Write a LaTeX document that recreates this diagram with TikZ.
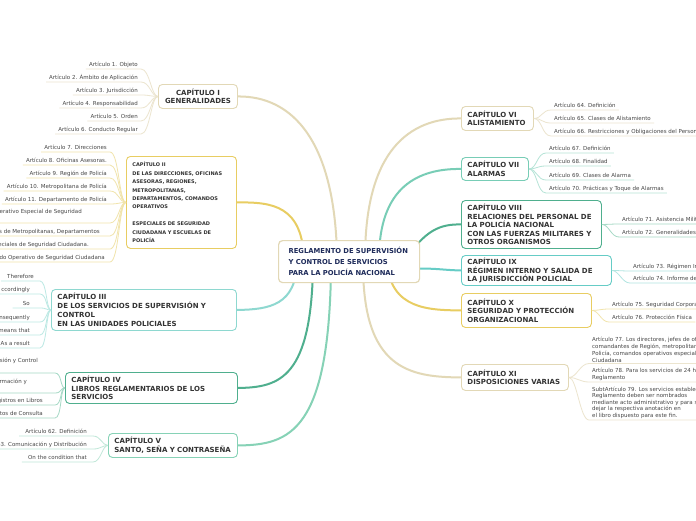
\documentclass[tikz,border=0pt]{standalone}
\usepackage{fontspec}
\setmainfont{DejaVu Sans}
\pgfdeclarelayer{bg}
\pgfsetlayers{bg,main}
\definecolor{beigeb}{HTML}{E2D8B6}
\definecolor{beigel}{HTML}{ECE5CF}
\definecolor{yel}{HTML}{E8CD62}
\definecolor{yell}{HTML}{F1E4AC}
\definecolor{teal3}{HTML}{8ED8D0}
\definecolor{teal3l}{HTML}{BCE9E4}
\definecolor{grn}{HTML}{4FAF8E}
\definecolor{grnl}{HTML}{A6D9C6}
\definecolor{tg5}{HTML}{86D2B6}
\definecolor{tg5l}{HTML}{C0E7D8}
\definecolor{tg7}{HTML}{78CDB6}
\definecolor{tg7l}{HTML}{B6E4D7}
\definecolor{cy9}{HTML}{66CCC6}
\definecolor{cy9l}{HTML}{B2E5E1}
\definecolor{navy}{HTML}{1E2B5A}
\definecolor{txt}{HTML}{333333}
\definecolor{ltxt}{HTML}{474747}
\tikzset{
  rootbox/.style={draw=beigeb, line width=1.2pt, rounded corners=4pt, fill=white, text=navy,
    font=\bfseries\fontsize{6.8}{11}\selectfont, align=left, anchor=north west, inner xsep=10pt, inner ysep=0pt},
  chap/.style={draw=#1, line width=0.9pt, rounded corners=4pt, fill=white, text=txt,
    font=\bfseries\fontsize{7}{8.5}\selectfont, align=left, anchor=north west, inner xsep=6pt, inner ysep=0pt},
  leaf/.style={text=ltxt, font=\fontsize{5.5}{6.8}\selectfont, inner xsep=3pt, inner ysep=1.2pt,
    text height=4.2pt, text depth=1.2pt},
  lL/.style={leaf, anchor=south east},
  lR/.style={leaf, anchor=south west},
  twig/.style={draw=#1, line width=0.8pt},
  branch/.style={draw=#1, line width=2pt, line cap=round},
}
\begin{document}
\begin{tikzpicture}[x=1pt,y=-1pt]
\useasboundingbox (0,0) rectangle (696,520);

% root and chapters
\node[rootbox, text width=121pt, minimum height=42pt] (root) at (278,240)
  {\mbox{REGLAMENTO DE SUPERVISIÓN}\\Y CONTROL DE SERVICIOS\\PARA LA POLICÍA NACIONAL};
\node[chap=beigeb, align=center, text width=67pt, minimum height=24pt] (c1) at (158,84)
  {CAPÍTULO I\\\mbox{GENERALIDADES}};
\node[chap=yel, font=\bfseries\fontsize{5}{8.4}\selectfont, text width=98pt, minimum height=92pt] (c2) at (126,156)
  {CAPÍTULO II\\DE LAS DIRECCIONES, OFICINAS\\ASESORAS, REGIONES,\\METROPOLITANAS,\\DEPARTAMENTOS, COMANDOS\\OPERATIVOS\\[8.4pt]ESPECIALES DE SEGURIDAD\\CIUDADANA Y ESCUELAS DE\\POLICÍA};
\node[chap=teal3, font=\bfseries\fontsize{7}{9}\selectfont, text width=173pt, minimum height=41pt] (c3) at (51,289)
  {CAPÍTULO III\\DE LOS SERVICIOS DE SUPERVISIÓN Y\\CONTROL\\EN LAS UNIDADES POLICIALES};
\node[chap=grn, text width=160pt, minimum height=31pt] (c4) at (65,372)
  {CAPÍTULO IV\\LIBROS REGLAMENTARIOS DE LOS\\SERVICIOS};
\node[chap=tg5, text width=117pt, minimum height=24pt] (c5) at (108,433)
  {CAPÍTULO V\\\mbox{SANTO, SEÑA Y CONTRASEÑA}};
\node[chap=beigeb, text width=60pt, minimum height=24pt] (c6) at (461,106)
  {CAPÍTULO VI\\\mbox{ALISTAMIENTO}};
\node[chap=tg7, text width=55pt, minimum height=23pt] (c7) at (461,157)
  {\mbox{CAPÍTULO VII}\\ALARMAS};
\node[chap=grn, text width=128pt, minimum height=48pt] (c8) at (461,200)
  {CAPÍTULO VIII\\\mbox{RELACIONES DEL PERSONAL DE}\\LA POLICÍA NACIONAL\\\mbox{CON LAS FUERZAS MILITARES Y}\\OTROS ORGANISMOS};
\node[chap=cy9, text width=138pt, minimum height=30pt] (c9) at (461,255)
  {CAPÍTULO IX\\RÉGIMEN INTERNO Y SALIDA DE\\LA JURISDICCIÓN POLICIAL};
\node[chap=yel, text width=118pt, minimum height=34pt] (c10) at (461,293)
  {CAPÍTULO X\\SEGURIDAD Y PROTECCIÓN\\ORGANIZACIONAL};
\node[chap=beigeb, text width=95pt, minimum height=26pt] (c11) at (461,364)
  {CAPÍTULO XI\\\mbox{DISPOSICIONES VARIAS}};

% background and main branches
\begin{pgfonlayer}{bg}
\fill[white] (0,0) rectangle (696,520);
\draw[branch=beigeb] ([xshift=-12pt]root.center) .. controls (336,140) and (292,96) .. (c1.east);
\draw[branch=yel] ([xshift=-45pt]root.center) .. controls (303,205) and (272,202) .. (c2.east);
\draw[branch=teal3] ([xshift=-52pt]root.center) .. controls (296,305) and (270,309.5) .. (c3.east);
\draw[branch=grn] ([xshift=-36pt]root.center) .. controls (312,378) and (280,387.5) .. (c4.east);
\draw[branch=tg5] ([xshift=-18pt]root.center) .. controls (330,432) and (290,445) .. (c5.east);
\draw[branch=beigeb] ([xshift=16pt]root.center) .. controls (364,150) and (410,118) .. (c6.west);
\draw[branch=tg7] ([xshift=30pt]root.center) .. controls (378,185) and (420,168.5) .. (c7.west);
\draw[branch=grn] ([xshift=55pt]root.center) .. controls (425,230) and (440,224) .. (c8.west);
\draw[branch=cy9] ([xshift=55pt,yshift=-7pt]root.center) .. controls (440,268) and (440,270) .. (c9.west);
\draw[branch=yel] ([xshift=38pt]root.center) .. controls (390,310) and (430,310) .. (c10.west);
\draw[branch=beigeb] ([xshift=14pt]root.center) .. controls (362,370) and (410,377) .. (c11.west);
\end{pgfonlayer}

% chapter I leaves
\foreach \n/\y/\t in {l1a/69/{Artículo 1. Objeto},l1b/82/{Artículo 2. Ámbito de Aplicación},l1c/95/{Artículo 3. Jurisdicción},l1d/108/{Artículo 4. Responsabilidad},l1e/121/{Artículo 5. Orden},l1f/134/{Artículo 6. Conducto Regular}}{
  \node[lL] (\n) at (141,\y) {\t};
  \draw[twig=beigel] (\n.south west) -- (\n.south east) .. controls +(9,0) and +(-7,0) .. (c1.west);
}
% chapter II leaves
\foreach \n/\y/\t in {l2a/152/{Artículo 7. Direcciones},l2b/165/{Artículo 8. Oficinas Asesoras.},l2c/178/{Artículo 9. Región de Policía},l2d/191/{Artículo 10. Metropolitana de Policía},l2e/204/{Artículo 11. Departamento de Policía}}{
  \node[lL] (\n) at (110,\y) {\t};
}
\node[lL, inner xsep=28pt, text depth=7.8pt] (l2f) at (110,223) {erativo Especial de Seguridad};
\node[lL, inner xsep=10pt] (l2g) at (110,236) {s de Metropolitanas, Departamentos};
\node[lL, inner xsep=21pt] (l2h) at (110,249) {eciales de Seguridad Ciudadana.};
\node[lL, inner xsep=5pt] (l2i) at (110,262) {do Operativo de Seguridad Ciudadana};
\foreach \n in {l2a,l2b,l2c,l2d,l2e,l2f,l2g,l2h,l2i}{
  \draw[twig=yell] (\n.south west) -- (\n.south east) .. controls +(9,0) and +(-7,0) .. (c2.west);
}
% chapter III leaves
\node[lL, inner xsep=6pt] (l3a) at (40,281) {Therefore};
\foreach \n/\y/\t in {l3b/294/ccordingly,l3c/308/So,l3d/322/nsequently,l3e/335/means that,l3f/348/As a result}{
  \node[lL, inner xsep=10pt] (\n) at (40,\y) {\t};
}
\foreach \n in {l3a,l3b,l3c,l3d,l3e,l3f}{
  \draw[twig=teal3l] (\n.south west) -- (\n.south east) .. controls +(7,0) and +(-5,0) .. (c3.west);
}
% chapter IV leaves
\node[lL, inner xsep=17pt, text depth=8.8pt] (l4a) at (55,373) {sión y Control};
\node[lL, inner xsep=28pt, text depth=7.8pt] (l4b) at (55,393) {rmación y};
\node[lL, inner xsep=12pt] (l4c) at (55,405) {gistros en Libros};
\node[lL, inner xsep=12pt] (l4d) at (55,418) {tos de Consulta};
\foreach \n in {l4a,l4b,l4c,l4d}{
  \draw[twig=grnl] (\n.south west) -- (\n.south east) .. controls +(7,0) and +(-5,0) .. (c4.west);
}
% chapter V leaves
\foreach \n/\y/\t in {l5a/436/{Artículo 62. Definición},l5b/449/{63. Comunicación y Distribución},l5c/462/{On the condition that}}{
  \node[lL, inner xsep=6pt] (\n) at (93,\y) {\t};
  \draw[twig=tg5l] (\n.south west) -- (\n.south east) .. controls +(8,0) and +(-6,0) .. (c5.west);
}
% chapter VI leaves
\foreach \n/\y/\t in {l6a/110/{Artículo 64. Definición},l6b/123/{Artículo 65. Clases de Alistamiento},l6c/136/{Artículo 66. Restricciones y Obligaciones del Personal}}{
  \node[lR] (\n) at (551,\y) {\t};
  \draw[twig=beigel] (c6.east) .. controls +(8,0) and +(-9,0) .. (\n.south west) -- (\n.south east);
}
% chapter VII leaves
\foreach \n/\y/\t in {l7a/153/{Artículo 67. Definición},l7b/166/{Artículo 68. Finalidad},l7c/180/{Artículo 69. Clases de Alarma},l7d/193/{Artículo 70. Prácticas y Toque de Alarmas}}{
  \node[lR] (\n) at (546,\y) {\t};
  \draw[twig=tg7l] (c7.east) .. controls +(8,0) and +(-9,0) .. (\n.south west) -- (\n.south east);
}
% chapter VIII leaves
\foreach \n/\y/\t in {l8a/224/{Artículo 71. Asistencia Militar},l8b/237/{Artículo 72. Generalidades.}}{
  \node[lR] (\n) at (619,\y) {\t};
  \draw[twig=grnl] (c8.east) .. controls +(7,0) and +(-8,0) .. (\n.south west) -- (\n.south east);
}
% chapter IX leaves
\foreach \n/\y/\t in {l9a/271/{Artículo 73. Régimen Interno},l9b/283/{Artículo 74. Informe de}}{
  \node[lR] (\n) at (630,\y) {\t};
  \draw[twig=cy9l] (c9.east) .. controls +(7,0) and +(-8,0) .. (\n.south west) -- (\n.south east);
}
% chapter X leaves
\foreach \n/\y/\t in {l10a/309/{Artículo 75. Seguridad Corporativa},l10b/322/{Artículo 76. Protección Física}}{
  \node[lR] (\n) at (609,\y) {\t};
  \draw[twig=yell] (c10.east) .. controls +(7,0) and +(-8,0) .. (\n.south west) -- (\n.south east);
}
% chapter XI leaves
\node[lR, align=left, text height=, text depth=, font=\fontsize{5.5}{7}\selectfont] (l11a) at (589,363.5)
  {Artículo 77. Los directores, jefes de oficinas\\comandantes de Región, metropolitanas\\Policía, comandos operativos especiales\\Ciudadana};
\node[lR, align=left, text height=, text depth=, font=\fontsize{5.5}{7}\selectfont] (l11b) at (589,382)
  {Artículo 78. Para los servicios de 24 horas\\Reglamento};
\node[lR, align=left, text height=, text depth=, font=\fontsize{5.5}{6.6}\selectfont] (l11c) at (589,420)
  {SubtArtículo 79. Los servicios establecidos\\Reglamento deben ser nombrados\\mediante acto administrativo y para s\\dejar la respectiva anotación en\\el libro dispuesto para este fin.};
\foreach \n in {l11a,l11b,l11c}{
  \draw[twig=beigel] (c11.east) .. controls +(8,0) and +(-9,0) .. (\n.south west) -- (\n.south east);
}
\end{tikzpicture}
\end{document}
